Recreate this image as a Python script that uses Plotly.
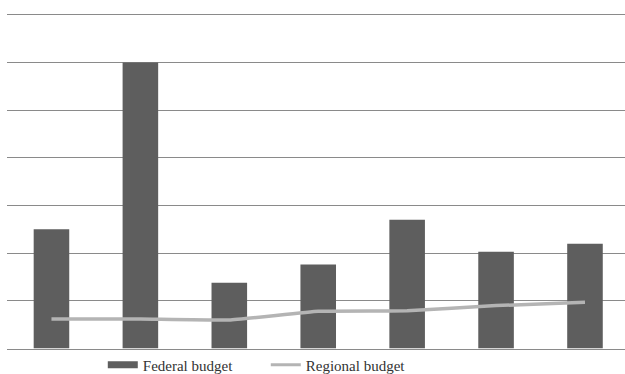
import plotly.graph_objects as go

categories = ["1", "2", "3", "4", "5", "6", "7"]
federal_budget = [25.0, 60.0, 13.8, 17.6, 27.0, 20.3, 22.0]
regional_budget = [6.2, 6.2, 6.0, 7.8, 7.9, 9.0, 9.7]
y_ticks = [0, 10, 20, 30, 40, 50, 60, 70]

BAR = "#5e5e5e"
LINE = "#b4b4b4"
GRID = "#8a8a8a"
SERIF = "Liberation Serif"

fig = go.Figure()
fig.add_trace(go.Bar(x=categories, y=federal_budget, marker_color=BAR,
                     marker_line_width=0, showlegend=False, name="Federal budget"))
fig.add_trace(go.Scatter(x=categories, y=regional_budget, mode="lines",
                         line=dict(color=LINE, width=3.5, shape="spline", smoothing=0.3),
                         showlegend=False, name="Regional budget"))
# legend proxies
fig.add_trace(go.Scatter(x=[None], y=[None], mode="lines", name="Federal budget",
                         line=dict(color=BAR, width=7)))
fig.add_trace(go.Scatter(x=[None], y=[None], mode="lines", name="Regional budget",
                         line=dict(color=LINE, width=3)))

fig.update_layout(
    width=625, height=374,
    margin=dict(l=7, r=0, t=10, b=25),
    paper_bgcolor="white", plot_bgcolor="white",
    bargap=0.6,
    font=dict(family=SERIF, size=15, color="#333333"),
    showlegend=True,
    legend=dict(orientation="h", x=0.155, xanchor="left",
                yref="container", y=0.024, yanchor="middle",
                entrywidth=118, entrywidthmode="pixels",
                font=dict(family=SERIF, size=15, color="#333333"),
                bgcolor="rgba(0,0,0,0)"),
    xaxis=dict(range=[-0.5, 6.45], showticklabels=False, showgrid=False,
               showline=True, linecolor=GRID, linewidth=1, ticks=""),
    yaxis=dict(range=[0, 71], tickvals=y_ticks, showticklabels=False,
               showgrid=True, gridcolor=GRID, gridwidth=1, zeroline=False, ticks=""),
)

fig.write_html("out.html")
